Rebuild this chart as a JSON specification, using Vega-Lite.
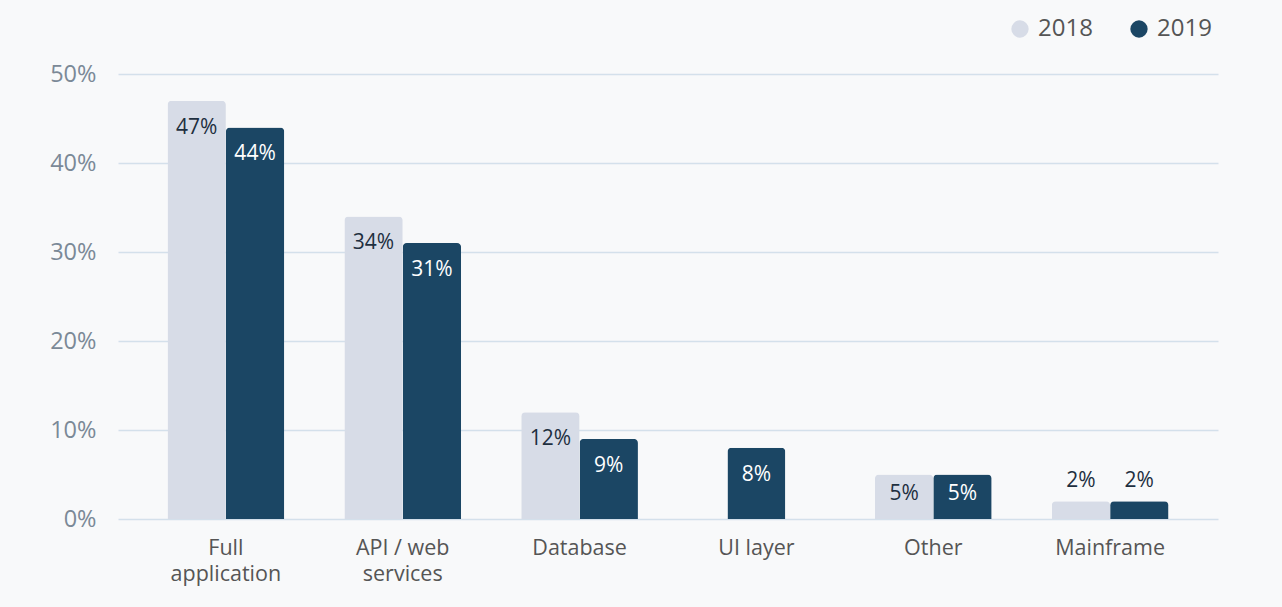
{
  "$schema": "https://vega.github.io/schema/vega-lite/v6.json",
  "width": 1100,
  "height": 445,
  "autosize": {"type": "none"},
  "padding": {"left": 118, "top": 74, "right": 64, "bottom": 88},
  "background": "#f8f9fa",
  "config": {
    "font": "Open Sans",
    "view": {"stroke": null}
  },
  "data": {
    "values": [
      {"cat": "Full application", "year": "2018", "value": 47},
      {"cat": "Full application", "year": "2019", "value": 44},
      {"cat": "API / web services", "year": "2018", "value": 34},
      {"cat": "API / web services", "year": "2019", "value": 31},
      {"cat": "Database", "year": "2018", "value": 12},
      {"cat": "Database", "year": "2019", "value": 9},
      {"cat": "UI layer", "year": "2019", "value": 8},
      {"cat": "Other", "year": "2018", "value": 5},
      {"cat": "Other", "year": "2019", "value": 5},
      {"cat": "Mainframe", "year": "2018", "value": 2},
      {"cat": "Mainframe", "year": "2019", "value": 2}
    ]
  },
  "transform": [{"calculate": "datum.value + '%'", "as": "label"}],
  "encoding": {
    "x": {
      "field": "cat",
      "type": "nominal",
      "sort": ["Full application", "API / web services", "Database", "UI layer", "Other", "Mainframe"],
      "scale": {
        "domain": ["Full application", "API / web services", "Database", "UI layer", "Other", "Mainframe"],
        "paddingInner": 0.34,
        "paddingOuter": 0.28
      },
      "axis": {
        "title": null,
        "labelAngle": 0,
        "ticks": false,
        "domain": false,
        "labelFontSize": 21.5,
        "labelColor": "#555555",
        "labelPadding": 18,
        "labelLineHeight": 26,
        "labelExpr": "datum.label == 'Full application' ? ['Full', 'application'] : datum.label == 'API / web services' ? ['API / web', 'services'] : datum.label"
      }
    },
    "y": {
      "field": "value",
      "type": "quantitative",
      "scale": {"domain": [0, 50], "nice": false},
      "axis": {
        "title": null,
        "values": [0, 10, 20, 30, 40, 50],
        "labelExpr": "datum.value + '%'",
        "ticks": false,
        "domain": false,
        "labelFontSize": 23.5,
        "labelColor": "#7b8997",
        "labelPadding": 22,
        "gridColor": "#d4e0eb",
        "gridWidth": 1.5
      }
    }
  },
  "layer": [
    {
      "transform": [{"filter": "datum.cat != 'UI layer'"}],
      "mark": {"type": "bar", "cornerRadiusTopLeft": 4, "cornerRadiusTopRight": 4},
      "encoding": {
        "xOffset": {"field": "year", "type": "nominal", "scale": {"domain": ["2018", "2019"], "paddingInner": 0, "paddingOuter": 0}},
        "color": {
          "field": "year",
          "type": "nominal",
          "scale": {"domain": ["2018", "2019"], "range": ["#d7dce7", "#1b4664"]},
          "legend": {
            "title": null,
            "orient": "none",
            "legendX": 890,
            "legendY": -57,
            "direction": "horizontal",
            "symbolType": "circle",
            "symbolSize": 300,
            "symbolStrokeWidth": 0,
            "labelFontSize": 24,
            "labelColor": "#555555",
            "labelOffset": 6,
            "columnPadding": 34
          }
        }
      }
    },
    {
      "transform": [{"filter": "datum.cat == 'UI layer'"}],
      "mark": {"type": "bar", "width": 58, "cornerRadiusTopLeft": 4, "cornerRadiusTopRight": 4},
      "encoding": {
        "color": {"field": "year", "type": "nominal", "scale": {"domain": ["2018", "2019"], "range": ["#d7dce7", "#1b4664"]}}
      }
    },
    {
      "transform": [{"filter": "datum.cat != 'UI layer' && datum.value >= 6"}],
      "mark": {"type": "text", "fontSize": 21, "baseline": "middle", "dy": 27},
      "encoding": {
        "xOffset": {"field": "year", "type": "nominal"},
        "text": {"field": "label"},
        "color": {"condition": {"test": "datum.year == '2019'", "value": "#ffffff"}, "value": "#1e2f3f"}
      }
    },
    {
      "transform": [{"filter": "datum.value >= 3 && datum.value < 6"}],
      "mark": {"type": "text", "fontSize": 21, "baseline": "middle", "dy": 19},
      "encoding": {
        "xOffset": {"field": "year", "type": "nominal"},
        "text": {"field": "label"},
        "color": {"condition": {"test": "datum.year == '2019'", "value": "#ffffff"}, "value": "#1e2f3f"}
      }
    },
    {
      "transform": [{"filter": "datum.value < 3"}],
      "mark": {"type": "text", "fontSize": 21, "baseline": "middle", "dy": -20, "color": "#1e2f3f"},
      "encoding": {
        "xOffset": {"field": "year", "type": "nominal"},
        "text": {"field": "label"}
      }
    },
    {
      "transform": [{"filter": "datum.cat == 'UI layer'"}],
      "mark": {"type": "text", "fontSize": 21, "baseline": "middle", "dy": 27, "color": "#ffffff"},
      "encoding": {
        "text": {"field": "label"}
      }
    }
  ]
}
